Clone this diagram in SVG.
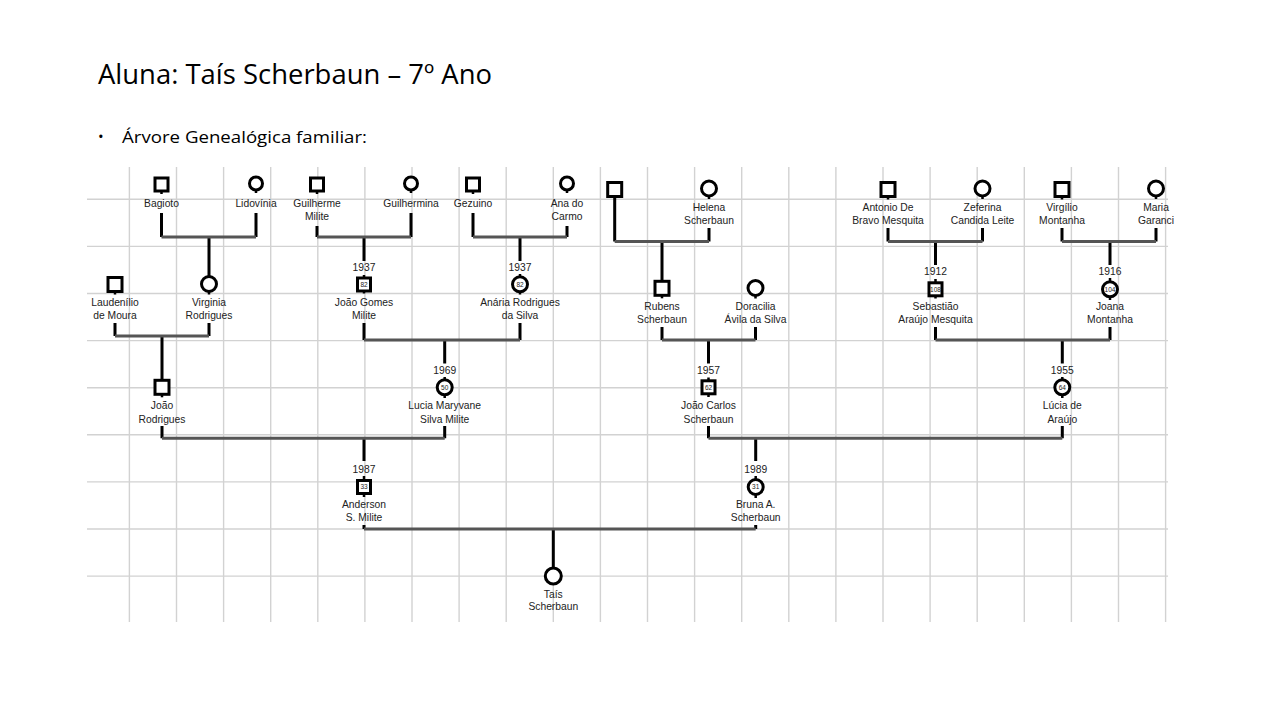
<svg xmlns="http://www.w3.org/2000/svg" width="1280" height="720" viewBox="0 0 1280 720">
<style>
.gl{stroke:#d2d2d2;stroke-width:1.4;fill:none}
.v{stroke:#000;stroke-width:3;fill:none}
.h{stroke:#555;stroke-width:3;fill:none}
.s{stroke:#000;stroke-width:2.5;fill:none}
.nd{fill:#fff;stroke:#000;stroke-width:3}
.t{font-family:"Liberation Sans",Arial,sans-serif;font-size:10.3px;fill:#222;text-anchor:middle}
.n{font-family:"Liberation Sans",Arial,sans-serif;font-size:6.5px;fill:#222;text-anchor:middle}
.title{font-family:"Open Sans","Liberation Sans",sans-serif;fill:#000}
</style>
<rect width="1280" height="720" fill="#fff"/>
<text class="title" x="98" y="84" font-size="27" textLength="394" lengthAdjust="spacingAndGlyphs">Aluna: Taís Scherbaun – 7º Ano</text>
<text class="title" x="98" y="142" font-size="15">•</text>
<text class="title" x="122" y="143" font-size="17" textLength="245" lengthAdjust="spacingAndGlyphs">Árvore Genealógica familiar:</text>
<g id="grid">
<path class="gl" d="M129.4 167V622M176.5 167V622M223.6 167V622M270.7 167V622M317.8 167V622M364.9 167V622M412 167V622M459.1 167V622M506.2 167V622M553.3 167V622M600.4 167V622M647.5 167V622M694.6 167V622M741.7 167V622M788.8 167V622M835.9 167V622M883 167V622M930.1 167V622M977.2 167V622M1024.3 167V622M1071.4 167V622M1118.5 167V622M1165.6 167V622"/>
<path class="gl" d="M87 199.3H1168M87 246.4H1168M87 293.5H1168M87 340.6H1168M87 387.7H1168M87 434.8H1168M87 481.9H1168M87 529H1168M87 576.1H1168"/>
</g>
<g id="connectors">
<path class="v" d="M161.5 213V237M256 213V237M209 237V276.5"/>
<path class="h" d="M161.5 237H256"/>
<path class="v" d="M317 226V237M411 213V237M364 237V261"/>
<path class="h" d="M317 237H411"/>
<path class="v" d="M473 213V237M567 226V237M520 237V261"/>
<path class="h" d="M473 237H567"/>
<path class="v" d="M614.7 197V241.5M709 228V241.5M662 241.5V280"/>
<path class="h" d="M614.7 241.5H709"/>
<path class="v" d="M888 228V241.5M982.5 228V241.5M935.5 241.5V265"/>
<path class="h" d="M888 241.5H982.5"/>
<path class="v" d="M1062 228V241.5M1156 228V241.5M1110 241.5V265"/>
<path class="h" d="M1062 241.5H1156"/>
<path class="v" d="M115 323V336M209 323V336M162 336V379.5"/>
<path class="h" d="M115 336H209"/>
<path class="v" d="M364 323V340M520 323V340M444.7 340V363.5"/>
<path class="h" d="M364 340H520"/>
<path class="v" d="M662 327V340M755.5 327V340M708.5 340V363.5"/>
<path class="h" d="M662 340H755.5"/>
<path class="v" d="M935.5 327V340M1110 327V340M1062.3 340V363.5"/>
<path class="h" d="M935.5 340H1110"/>
<path class="v" d="M162 426V438.3M444.7 426V438.3M364 438.3V461"/>
<path class="h" d="M162 438.3H444.7"/>
<path class="v" d="M708.5 426V438.3M1062.3 426V438.3M755.7 438.3V461"/>
<path class="h" d="M708.5 438.3H1062.3"/>
<path class="v" d="M364 525V529M755.7 525V529M553.3 529V567"/>
<path class="h" d="M364 529H755.7"/>
</g>
<g id="bagioto"><rect class="nd" x="155" y="178" width="13" height="13"/><path class="s" d="M161.5 191V194"/><text class="t" x="161.5" y="207">Bagioto</text></g>
<g id="lidovinia"><circle class="nd" cx="256" cy="183.5" r="6.5"/><path class="s" d="M256 190V193"/><text class="t" x="256" y="207">Lidovínia</text></g>
<g id="guilherme"><rect class="nd" x="310.5" y="178" width="13" height="13"/><path class="s" d="M317 191V194"/><text class="t" x="317" y="207">Guilherme</text><text class="t" x="317" y="220">Milite</text></g>
<g id="guilhermina"><circle class="nd" cx="411" cy="183.5" r="6.5"/><path class="s" d="M411 190V193"/><text class="t" x="411" y="207">Guilhermina</text></g>
<g id="gezuino"><rect class="nd" x="466.5" y="178" width="13" height="13"/><path class="s" d="M473 191V194"/><text class="t" x="473" y="207">Gezuino</text></g>
<g id="ana"><circle class="nd" cx="567" cy="183.5" r="6.5"/><path class="s" d="M567 190V193"/><text class="t" x="567" y="207">Ana do</text><text class="t" x="567" y="220">Carmo</text></g>
<g id="unnamed"><rect class="nd" x="607.7" y="182.5" width="14" height="14"/></g>
<g id="helena"><circle class="nd" cx="709" cy="188.5" r="7.5"/><path class="s" d="M709 196V199"/><text class="t" x="709" y="211">Helena</text><text class="t" x="709" y="224">Scherbaun</text></g>
<g id="antonio"><rect class="nd" x="881" y="182.5" width="14" height="14"/><path class="s" d="M888 196.5V199.5"/><text class="t" x="888" y="211">Antonio De</text><text class="t" x="888" y="224">Bravo Mesquita</text></g>
<g id="zeferina"><circle class="nd" cx="982.5" cy="188.5" r="7.5"/><path class="s" d="M982.5 196V199"/><text class="t" x="982.5" y="211">Zeferina</text><text class="t" x="982.5" y="224">Candida Leite</text></g>
<g id="virgilio"><rect class="nd" x="1055" y="182.5" width="14" height="14"/><path class="s" d="M1062 196.5V199.5"/><text class="t" x="1062" y="211">Virgílio</text><text class="t" x="1062" y="224">Montanha</text></g>
<g id="maria"><circle class="nd" cx="1156" cy="188.5" r="7.5"/><path class="s" d="M1156 196V199"/><text class="t" x="1156" y="211">Maria</text><text class="t" x="1156" y="224">Garanci</text></g>
<g id="laudenilio"><rect class="nd" x="108" y="277.5" width="14" height="14"/><path class="s" d="M115 291.5V294.5"/><text class="t" x="115" y="305.5">Laudenílio</text><text class="t" x="115" y="318.5">de Moura</text></g>
<g id="virginia"><circle class="nd" cx="209" cy="284" r="7.5"/><path class="s" d="M209 291.5V294.5"/><text class="t" x="209" y="305.5">Virginia</text><text class="t" x="209" y="318.5">Rodrigues</text></g>
<g id="joaogomes"><text class="t" x="364" y="271">1937</text><path class="s" d="M364 275V278M364 290.5V293.5"/><rect class="nd" x="357.5" y="278" width="13" height="13"/><text class="n" x="364" y="286.7">82</text><text class="t" x="364" y="305.5">João Gomes</text><text class="t" x="364" y="319">Milite</text></g>
<g id="anaria"><text class="t" x="520" y="271">1937</text><path class="s" d="M520 274V277M520 291.5V294.5"/><circle class="nd" cx="520" cy="284.3" r="7.5"/><text class="n" x="520" y="286.7">82</text><text class="t" x="520" y="305.5">Anária Rodrigues</text><text class="t" x="520" y="319">da Silva</text></g>
<g id="rubens"><rect class="nd" x="655" y="281.3" width="14" height="14"/><path class="s" d="M662 295.3V298.3"/><text class="t" x="662" y="310">Rubens</text><text class="t" x="662" y="323">Scherbaun</text></g>
<g id="doracilia"><circle class="nd" cx="755.5" cy="288" r="7.5"/><path class="s" d="M755.5 295.5V298.5"/><text class="t" x="755.5" y="310">Doracilia</text><text class="t" x="755.5" y="323">Ávila da Silva</text></g>
<g id="sebastiao"><text class="t" x="935.5" y="275">1912</text><path class="s" d="M935.5 279V282.5M935.5 295.5V298.5"/><rect class="nd" x="929" y="282.8" width="13" height="13"/><text class="n" x="935.5" y="291.6">108</text><text class="t" x="935.5" y="310">Sebastião</text><text class="t" x="935.5" y="323">Araújo Mesquita</text></g>
<g id="joana"><text class="t" x="1110" y="275">1916</text><path class="s" d="M1110 278V281.5M1110 297V300"/><circle class="nd" cx="1110" cy="289.3" r="7.5"/><text class="n" x="1110" y="291.6">104</text><text class="t" x="1110" y="310">Joana</text><text class="t" x="1110" y="323">Montanha</text></g>
<g id="joaorodrigues"><rect class="nd" x="155" y="380.3" width="14" height="14"/><path class="s" d="M162 394.3V397.3"/><text class="t" x="162" y="409.3">João</text><text class="t" x="162" y="422.6">Rodrigues</text></g>
<g id="lucia"><text class="t" x="444.7" y="374.3">1969</text><path class="s" d="M444.7 377V380M444.7 395V398"/><circle class="nd" cx="444.7" cy="387.3" r="7.5"/><text class="n" x="444.7" y="389.6">50</text><text class="t" x="444.7" y="409.3">Lucia Maryvane</text><text class="t" x="444.7" y="422.6">Silva Milite</text></g>
<g id="joaocarlos"><text class="t" x="708.5" y="374.3">1957</text><path class="s" d="M708.5 377.5V381M708.5 393.5V397"/><rect class="nd" x="702" y="380.8" width="13" height="13"/><text class="n" x="708.5" y="389.6">62</text><text class="t" x="708.5" y="409.3">João Carlos</text><text class="t" x="708.5" y="422.6">Scherbaun</text></g>
<g id="luciaaraujo"><text class="t" x="1062.3" y="374.3">1955</text><path class="s" d="M1062.3 377V380M1062.3 395V398"/><circle class="nd" cx="1062.3" cy="387.3" r="7.5"/><text class="n" x="1062.3" y="389.6">64</text><text class="t" x="1062.3" y="409.3">Lúcia de</text><text class="t" x="1062.3" y="422.6">Araújo</text></g>
<g id="anderson"><text class="t" x="364" y="472.6">1987</text><path class="s" d="M364 476V480.5M364 493.5V497"/><rect class="nd" x="357.5" y="480.5" width="13" height="13"/><text class="n" x="364" y="489.3">33</text><text class="t" x="364" y="507.6">Anderson</text><text class="t" x="364" y="521.3">S. Milite</text></g>
<g id="bruna"><text class="t" x="755.7" y="472.6">1989</text><path class="s" d="M755.7 476V479.5M755.7 494.5V498"/><circle class="nd" cx="755.7" cy="487" r="7.5"/><text class="n" x="755.7" y="489.3">31</text><text class="t" x="755.7" y="507.6">Bruna A.</text><text class="t" x="755.7" y="521.3">Scherbaun</text></g>
<g id="tais"><circle class="nd" cx="553.3" cy="576" r="8"/><text class="t" x="553.3" y="597.6">Taís</text><text class="t" x="553.3" y="610.3">Scherbaun</text></g>
</svg>
